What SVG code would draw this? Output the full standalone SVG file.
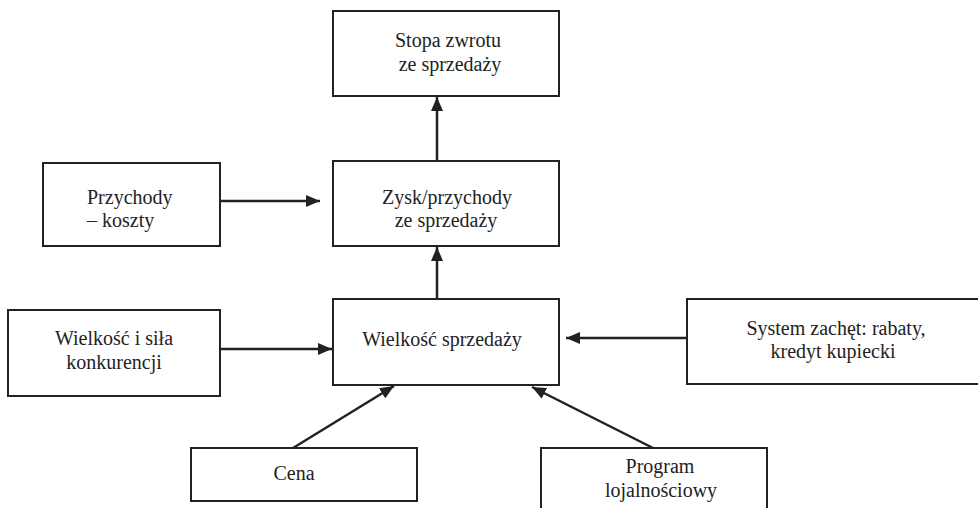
<svg xmlns="http://www.w3.org/2000/svg" width="978" height="508" viewBox="0 0 978 508">
<style>
rect{fill:#fff;stroke:#222;stroke-width:2}
text{font-size:20px;fill:#222;text-anchor:middle}
text.l{text-anchor:start}
.c line{stroke:#222;stroke-width:2.5}
</style>
<defs>
<marker id="a" viewBox="0 0 14 12" refX="14" refY="6" markerWidth="14" markerHeight="12" markerUnits="userSpaceOnUse" orient="auto">
<path d="M0,0L14,6L0,12z" fill="#222"/>
</marker>
</defs>
<rect width="978" height="508" fill="#fff" style="stroke:none"/>
<g font-family="'Liberation Serif', 'DejaVu Serif', 'Times New Roman', serif">
<g id="stopa"><rect x="333" y="11" width="226" height="85"/><text x="448" y="47">Stopa zwrotu</text><text x="450" y="71">ze sprzedaży</text></g>
<g id="zysk"><rect x="333" y="161" width="226" height="85"/><text x="447" y="204">Zysk/przychody</text><text x="446" y="227">ze sprzedaży</text></g>
<g id="przychody"><rect x="43" y="163" width="177" height="83"/><text class="l" x="87" y="204">Przychody</text><text class="l" x="87" y="227">– koszty</text></g>
<g id="wielkosc"><rect x="333" y="299" width="226" height="86"/><text x="442" y="346">Wielkość sprzedaży</text></g>
<g id="konkurencja"><rect x="8" y="310" width="212" height="86"/><text x="114" y="345">Wielkość i siła</text><text x="114" y="369">konkurencji</text></g>
<g id="system"><rect x="687" y="299" width="300" height="85"/><text x="836" y="335">System zachęt: rabaty,</text><text x="833" y="358">kredyt kupiecki</text></g>
<g id="cena"><rect x="191" y="448" width="226" height="53"/><text x="294" y="480">Cena</text></g>
<g id="program"><rect x="541" y="448" width="226" height="70"/><text x="660" y="473">Program</text><text x="661" y="497">lojalnościowy</text></g>
</g>
<g class="c">
<line x1="437" y1="161" x2="437" y2="97" marker-end="url(#a)"/>
<line x1="437" y1="299" x2="437" y2="247" marker-end="url(#a)"/>
<line x1="220" y1="201" x2="320" y2="201" marker-end="url(#a)"/>
<line x1="220" y1="349" x2="332" y2="349" marker-end="url(#a)"/>
<line x1="687" y1="338" x2="566" y2="338" marker-end="url(#a)"/>
<line x1="293" y1="448" x2="394" y2="386" marker-end="url(#a)"/>
<line x1="653" y1="448" x2="532" y2="387" marker-end="url(#a)"/>
</g>
</svg>
